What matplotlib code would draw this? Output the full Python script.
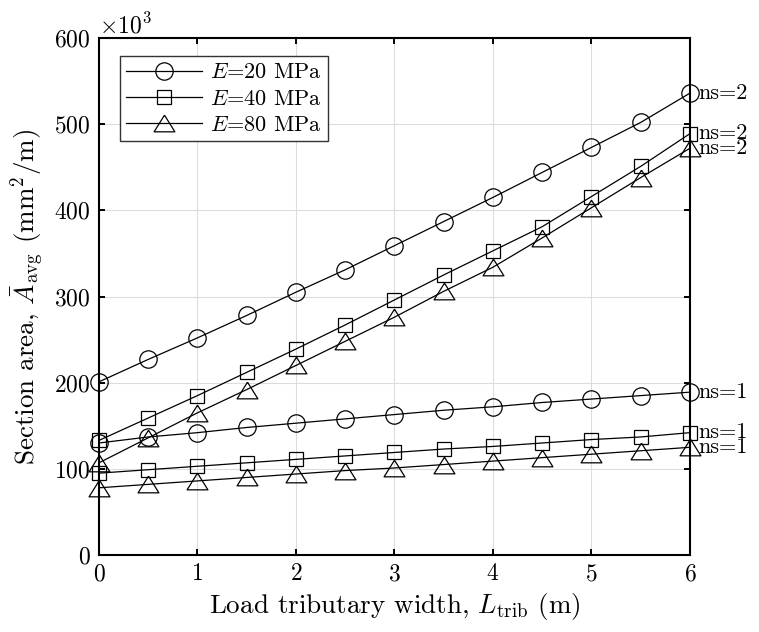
import matplotlib
matplotlib.use("Agg")
import matplotlib.pyplot as plt
from matplotlib.ticker import ScalarFormatter
import numpy as np

plt.rcParams["font.family"] = "serif"
plt.rcParams["font.serif"] = ["cmr10"]
plt.rcParams["mathtext.fontset"] = "cm"
plt.rcParams["axes.formatter.use_mathtext"] = True

# load tributary width (m)
L_trib = [0, 0.5, 1, 1.5, 2, 2.5, 3, 3.5, 4, 4.5, 5, 5.5, 6]

# section area, x10^3 mm^2/m
E20_ns2 = [201, 227, 252, 278, 305, 331, 359, 387, 415, 444, 473, 502, 536]
E40_ns2 = [133, 159, 185, 212, 239, 267, 296, 325, 353, 381, 416, 451, 489]
E80_ns2 = [107, 136, 165, 192, 220, 248, 276, 306, 334, 368, 403, 438, 472]
E20_ns1 = [130, 137, 142, 148, 153, 158, 163, 168, 172, 177, 181, 185, 189]
E40_ns1 = [95, 99, 103, 107, 111, 115, 119, 123, 126, 130, 134, 137, 142]
E80_ns1 = [78, 82, 86, 90, 94, 98, 101, 105, 109, 113, 117, 121, 125]

labels = ["$E$=20 MPa", "$E$=40 MPa", "$E$=80 MPa"]

tri = [(0, 0.8), (-1, -0.8), (1, -0.8), (0, 0.8)]
styles = [dict(marker="o", ms=12.5), dict(marker="s", ms=9.5), dict(marker=tri, ms=15)]

fig = plt.figure(figsize=(7.59, 6.32), dpi=100)
ax = fig.add_axes([0.1304, 0.1218, 0.7786, 0.8181])

x = np.array(L_trib)
series_ns2 = [E20_ns2, E40_ns2, E80_ns2]
series_ns1 = [E20_ns1, E40_ns1, E80_ns1]

for ys, lab, st in zip(series_ns2, labels, styles):
    y = np.array(ys) * 1e3
    ax.plot(x, y, color="black", lw=0.9, mfc="none", mec="black", mew=0.9,
            label=lab, clip_on=False, zorder=3, **st)
    ax.annotate("ns=2", (x[-1], y[-1]), xytext=(6, 0), textcoords="offset points",
                va="center", ha="left", fontsize=16, annotation_clip=False)

for ys, st in zip(series_ns1, styles):
    y = np.array(ys) * 1e3
    ax.plot(x, y, color="black", lw=0.9, mfc="none", mec="black", mew=0.9,
            clip_on=False, zorder=3, **st)
    ax.annotate("ns=1", (x[-1], y[-1]), xytext=(6, 0), textcoords="offset points",
                va="center", ha="left", fontsize=16, annotation_clip=False)

ax.set_xlim(0, 6)
ax.set_ylim(0, 600e3)
ax.set_xticks(range(0, 7))
ax.set_yticks(np.arange(0, 601e3, 100e3))

fmt = ScalarFormatter(useMathText=True)
fmt.set_powerlimits((3, 3))
ax.yaxis.set_major_formatter(fmt)
ax.yaxis.get_offset_text().set_fontsize(17)

ax.grid(True, color="#dcdcdc", lw=0.8)
ax.set_axisbelow(True)
ax.tick_params(direction="in", top=True, right=True, length=4, width=1.4,
               labelsize=17, pad=6)
for sp in ax.spines.values():
    sp.set_linewidth(1.5)

ax.set_xlabel(r"Load tributary width, $L_{\rm trib}$ (m)", fontsize=19.5, labelpad=4)
ax.set_ylabel(r"Section area, $\bar{A}_{\rm avg}$ (mm$^2$/m)", fontsize=19.5, labelpad=6)

leg = ax.legend(loc="upper left", bbox_to_anchor=(0.035, 0.965), fontsize=16,
                handlelength=3.4, fancybox=False, edgecolor="#333333",
                framealpha=1, borderpad=0.3, labelspacing=0.3, handletextpad=0.35,
                borderaxespad=0)
leg.get_frame().set_linewidth(1.0)

fig.savefig("out.png", dpi=100)
